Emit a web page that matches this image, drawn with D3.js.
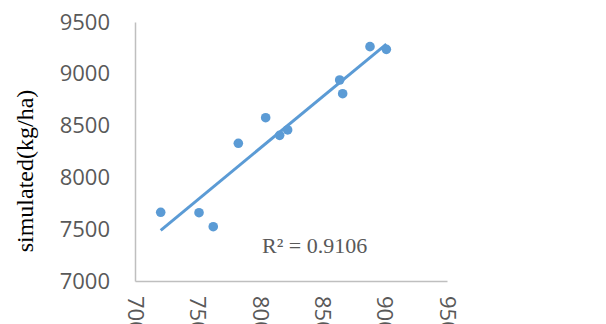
<html>
<head>
<style>
  body { margin: 0; background: #fff; }
</style>
</head>
<body>
<div id="chart"></div>
<script src="https://cdn.jsdelivr.net/npm/d3@7"></script>
<script>
var width = 606, height = 324;

// observed vs simulated yield (kg/ha)
var observed  = [7206, 7513, 7627, 7828, 8047, 8159, 8223, 8640, 8664, 8883, 9014];
var simulated = [7663, 7659, 7524, 8329, 8576, 8406, 8458, 8940, 8808, 9262, 9236];
var xTicks = [7000, 7500, 8000, 8500, 9000, 9500];
var yTicks = [7000, 7500, 8000, 8500, 9000, 9500];
var r2Label = "R\u00b2 = 0.9106";

var blue = "#5b9bd5";
var axisColor = "#bfbfbf";
var labelColor = "#595959";

var svg = d3.select("#chart").append("svg")
  .attr("width", width).attr("height", height);

var x = d3.scaleLinear().domain([7000, 9500]).range([135, 447]);
var y = d3.scaleLinear().domain([7000, 9500]).range([281, 22]);

// y axis
var gy = svg.append("g")
  .attr("transform", "translate(135,0)")
  .call(d3.axisLeft(y).tickValues(yTicks).tickSize(0).tickPadding(25).tickFormat(d3.format("d")));
gy.select(".domain").attr("stroke", axisColor).attr("stroke-width", 1.5);
gy.selectAll("text")
  .attr("fill", labelColor)
  .style("font", "22px 'Open Sans'");

// x axis
var gx = svg.append("g")
  .attr("transform", "translate(0,281)")
  .call(d3.axisBottom(x).tickValues(xTicks).tickSize(0).tickFormat(d3.format("d")));
gx.select(".domain").attr("stroke", axisColor).attr("stroke-width", 1.5);
gx.selectAll("text")
  .attr("fill", labelColor)
  .style("font", "22px 'Open Sans'")
  .attr("transform", "rotate(90)")
  .attr("text-anchor", "start")
  .attr("x", 15)
  .attr("y", 0)
  .attr("dy", "0.35em");

// least squares trendline
var mx = d3.mean(observed), my = d3.mean(simulated);
var sxy = d3.sum(observed, (d, i) => (d - mx) * (simulated[i] - my));
var sxx = d3.sum(observed, d => (d - mx) * (d - mx));
var slope = sxy / sxx, intercept = my - slope * mx;
var ext = d3.extent(observed);

svg.append("line")
  .attr("x1", x(ext[0])).attr("y1", y(intercept + slope * ext[0]))
  .attr("x2", x(ext[1])).attr("y2", y(intercept + slope * ext[1]))
  .attr("stroke", blue).attr("stroke-width", 3);

svg.append("g")
  .selectAll("circle")
  .data(observed)
  .join("circle")
    .attr("cx", d => x(d))
    .attr("cy", (d, i) => y(simulated[i]))
    .attr("r", 4.8)
    .attr("fill", blue);

svg.append("text")
  .attr("x", 262).attr("y", 253)
  .attr("fill", labelColor)
  .style("font", "22px 'Liberation Serif'")
  .text(r2Label);

svg.append("text")
  .attr("transform", "translate(33,171) rotate(-90)")
  .attr("text-anchor", "middle")
  .attr("fill", "#000")
  .style("font", "24px 'Liberation Serif'")
  .text("simulated(kg/ha)");
</script>
</body>
</html>
